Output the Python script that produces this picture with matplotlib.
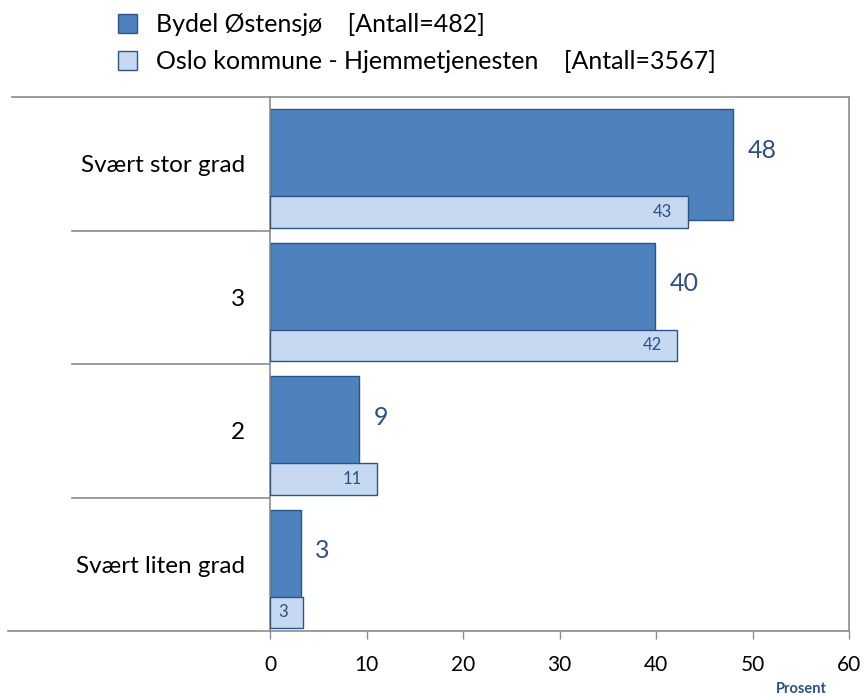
import matplotlib

matplotlib.use("Agg")
import matplotlib.pyplot as plt
import matplotlib.transforms as mtransforms
from matplotlib.patches import Patch
import numpy as np

plt.rcParams["font.family"] = ["Lato", "DejaVu Sans"]

# data, top category first
categories = ["Svært stor grad", "3", "2", "Svært liten grad"]
bydel = [48.0, 39.9, 9.2, 3.2]
oslo = [43.3, 42.2, 11.1, 3.45]
series_names = ["Bydel Østensjø    [Antall=482]",
                "Oslo kommune - Hjemmetjenesten    [Antall=3567]"]
xticks = [0, 10, 20, 30, 40, 50, 60]

DARK = "#4F81BD"
LIGHT = "#C6D9F1"
EDGE = "#2B5587"
TXT = "#2B4F86"
GREY = "#8C8C8C"

fig = plt.figure(figsize=(8.66, 6.97), dpi=100)
ax = fig.add_axes([270 / 866, 66 / 697, 579 / 866, 534 / 697])

n = len(categories)
pos = n - 1 - np.arange(n)  # band bottoms, top category highest

ax.barh(pos + 0.494, bydel, height=0.83, color=DARK, edgecolor=EDGE, linewidth=1.0, zorder=2)
ax.barh(pos + 0.139, oslo, height=0.238, color=LIGHT, edgecolor=EDGE, linewidth=1.0, zorder=3)

for p, b, o in zip(pos, bydel, oslo):
    ax.text(b + 1.5, p + 0.6, f"{b:.0f}", color=TXT, fontsize=18, va="center", ha="left")
    ax.text(o - 1.6, p + 0.139, f"{o:.0f}", color=TXT, fontsize=12, va="center", ha="right", zorder=4)

ax.set_xlim(0, 60)
ax.set_ylim(0, n)
ax.set_xticks(xticks)
ax.set_xticklabels([str(t) for t in xticks], fontsize=15)
ax.tick_params(axis="x", length=6, color=GREY, width=1, pad=11)
ax.set_yticks(pos + 0.5)
ax.set_yticklabels(categories, fontsize=17.5)
ax.tick_params(axis="y", length=0, pad=18)

for s in ["left", "right", "top", "bottom"]:
    ax.spines[s].set_color(GREY)
    ax.spines[s].set_linewidth(1.2)

# extended frame lines and category separators to the left of the axis
trans = mtransforms.blended_transform_factory(ax.transAxes, ax.transData)
ax.plot([-0.4456, 0], [n, n], transform=trans, color=GREY, lw=1.2, clip_on=False)
ax.plot([-0.452, 0], [0, 0], transform=trans, color=GREY, lw=1.2, clip_on=False)
for y in range(1, n):
    ax.plot([-0.342, 0], [y, y], transform=trans, color=GREY, lw=1.2, clip_on=False)

ax.text(801 / 866, 8 / 697, "Prosent", transform=fig.transFigure, fontsize=10.5,
        fontweight="bold", color=TXT, ha="center", va="center")

handles = [Patch(facecolor=DARK, edgecolor=EDGE), Patch(facecolor=LIGHT, edgecolor=EDGE)]
fig.legend(handles, series_names, loc="upper left", bbox_to_anchor=(95 / 866, 1.013),
           frameon=False, fontsize=18, handlelength=0.76, handleheight=0.76,
           handletextpad=0.76, labelspacing=0.55)

fig.savefig("out.png", dpi=100)
